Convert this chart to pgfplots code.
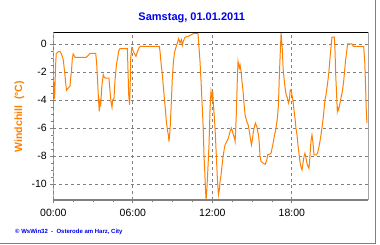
\documentclass[border=0pt]{standalone}
\usepackage{pgfplots}
\pgfplotsset{compat=1.18}
\usepackage{fontspec}
\setmainfont{Liberation Sans}
\definecolor{wsorange}{RGB}{255,128,0}
\definecolor{wsblue}{RGB}{0,0,235}
\definecolor{wsgray}{RGB}{128,128,128}
\begin{document}
\begin{tikzpicture}[x=1pt,y=1pt]
\path[use as bounding box] (0,0) rectangle (380,245);
\fill[white] (0,0) rectangle (380,245);
\draw[wsgray,line width=1pt] (375.7,245) -- (375.7,1.7) -- (0,1.7);
\begin{axis}[
  at={(53.3pt,44.7pt)}, anchor=south west,
  scale only axis, width=315pt, height=168pt,
  xmin=0, xmax=23.77, ymin=-11.14, ymax=0.83,
  axis line style={draw=none},
  xtick={0,6,12,18}, xticklabels={00:00,06:00,12:00,18:00},
  ytick={-10,-8,-6,-4,-2,0},
  minor x tick num=3, minor y tick num=3,
  xtick pos=left, ytick pos=left, tick align=outside,
  major tick length=3pt, minor tick length=2pt,
  every tick/.style={wsgray, line width=0.8pt},
  xmajorgrids, ymajorgrids,
  major grid style={wsgray, dashed, line width=0.8pt, dash pattern=on 3pt off 3pt},
  /pgf/number format/assume math mode=true,
  tick label style={font=\fontsize{10.5}{12}\selectfont, text=black},
  xticklabel style={yshift=-2pt},
  clip=true,
]
\addplot[wsorange, line width=1pt] coordinates {
(0.00,-4.6) (0.05,-2.7) (0.10,-3.9) (0.17,-1.6) (0.22,-0.7) (0.35,-0.57) (0.50,-0.52)
(0.63,-0.76) (0.75,-1.12) (0.85,-1.95) (0.96,-3.0) (1.00,-3.3) (1.13,-3.14) (1.26,-3.0)
(1.30,-2.55) (1.38,-1.83) (1.43,-1.12) (1.50,-0.71) (1.64,-0.95) (2.50,-0.95) (2.64,-0.81)
(2.77,-0.67) (3.20,-0.67) (3.27,-1.36) (3.35,-2.79) (3.42,-4.1) (3.47,-4.8) (3.52,-4.1)
(3.57,-4.45) (3.65,-3.14) (3.72,-2.55) (3.77,-2.19) (3.85,-2.38) (3.95,-2.43) (4.20,-2.43)
(4.28,-3.38) (4.35,-4.1) (4.43,-4.52) (4.48,-3.98) (4.58,-3.9) (4.65,-2.67) (4.73,-1.83)
(4.78,-1.36) (4.86,-1.0) (4.93,-0.52) (5.03,-0.33) (5.59,-0.33) (5.64,-1.95) (5.69,-3.62)
(5.72,-4.0) (5.76,-4.33) (5.80,-3.0) (5.84,-1.0) (5.92,-0.29) (5.99,-0.4) (6.09,-0.64)
(6.24,-0.88) (6.34,-0.57) (6.49,-0.24) (6.59,-0.17) (8.00,-0.17) (8.05,-0.52) (8.13,-1.36)
(8.23,-2.19) (8.31,-3.14) (8.38,-3.86) (8.46,-4.69) (8.53,-5.52) (8.61,-6.12) (8.68,-6.48)
(8.73,-6.95) (8.78,-6.48) (8.83,-5.76) (8.91,-4.1) (8.98,-2.43) (9.06,-1.36) (9.14,-0.64)
(9.24,-0.29) (9.36,0.07) (9.46,0.38) (9.56,0.07) (9.66,0.31) (9.74,-0.1) (9.81,0.19)
(9.94,0.48) (10.19,0.55) (10.44,0.67) (10.62,0.76) (10.82,0.76) (10.92,0.72) (10.97,0.07)
(11.07,-1.24) (11.15,-2.67) (11.22,-4.1) (11.27,-5.05) (11.32,-6.24) (11.37,-7.9) (11.43,-9.1)
(11.48,-10.29) (11.53,-11.1) (11.58,-10.5) (11.63,-9.57) (11.68,-8.62) (11.75,-7.19) (11.83,-4.6)
(11.90,-3.38) (11.98,-3.86) (12.03,-3.38) (12.08,-4.33) (12.16,-5.29) (12.23,-6.48) (12.31,-8.14)
(12.38,-9.57) (12.46,-10.76) (12.53,-10.4) (12.58,-9.81) (12.66,-9.33) (12.74,-8.62) (12.81,-8.02)
(12.89,-7.55) (12.96,-7.19) (13.09,-6.95) (13.21,-6.71) (13.34,-6.24) (13.44,-6.0) (13.52,-6.24)
(13.59,-6.48) (13.67,-6.71) (13.72,-6.95) (13.79,-5.52) (13.84,-4.1) (13.89,-2.43) (13.94,-1.24)
(13.99,-1.48) (14.04,-1.71) (14.09,-1.48) (14.17,-1.95) (14.24,-2.67) (14.32,-3.38) (14.40,-4.33)
(14.47,-5.05) (14.60,-5.52) (14.70,-5.76) (14.80,-6.24) (14.87,-6.71) (14.95,-7.19) (15.02,-6.83)
(15.10,-6.24) (15.18,-5.88) (15.25,-5.64) (15.35,-5.88) (15.43,-6.24) (15.50,-6.6) (15.55,-7.19)
(15.60,-8.02) (15.68,-8.38) (15.85,-8.5) (16.00,-8.57) (16.11,-8.26) (16.18,-7.9) (16.31,-7.86)
(16.43,-7.79) (16.51,-7.43) (16.61,-6.95) (16.69,-6.48) (16.76,-6.24) (16.84,-5.76) (16.91,-5.29)
(16.99,-4.33) (17.06,-2.19) (17.14,-0.29) (17.19,0.79) (17.24,0.07) (17.29,-0.52) (17.34,-1.71)
(17.41,-2.43) (17.49,-3.14) (17.57,-3.62) (17.67,-3.86) (17.74,-4.21) (17.82,-3.98) (17.87,-3.3)
(17.94,-3.26) (18.01,-3.62) (18.09,-4.1) (18.16,-4.69) (18.24,-5.29) (18.31,-6.0) (18.39,-6.48)
(18.46,-7.19) (18.54,-7.79) (18.61,-8.38) (18.69,-8.74) (18.77,-8.98) (18.84,-8.5) (18.92,-8.02)
(18.99,-7.79) (19.07,-8.14) (19.14,-8.5) (19.22,-8.74) (19.29,-8.86) (19.34,-8.38) (19.39,-7.67)
(19.44,-6.95) (19.52,-6.48) (19.60,-7.07) (19.67,-7.9) (19.87,-7.9) (19.97,-7.67) (20.05,-7.31)
(20.12,-6.95) (20.20,-6.48) (20.27,-6.0) (20.35,-5.4) (20.43,-4.69) (20.50,-3.98) (20.58,-3.62)
(20.65,-3.14) (20.73,-2.55) (20.80,-1.95) (20.88,-1.0) (20.95,-0.29) (21.03,0.48) (21.21,0.48)
(21.26,-0.52) (21.31,-2.19) (21.38,-3.62) (21.43,-4.81) (21.48,-4.57) (21.53,-4.69) (21.61,-4.33)
(21.68,-3.98) (21.76,-3.62) (21.83,-3.26) (21.91,-2.67) (21.98,-1.95) (22.06,-1.12) (22.14,-0.52)
(22.21,0.0) (22.54,0.0) (22.64,-0.17) (23.42,-0.17) (23.50,-1.24) (23.57,-3.14) (23.62,-4.81)
(23.67,-5.64)
};
\draw[black, line width=1.5pt] (rel axis cs:0,1) -- (rel axis cs:1,1) -- (rel axis cs:1,0);
\draw[wsgray, line width=2pt] (rel axis cs:0,1) -- (rel axis cs:0,0) -- (rel axis cs:1,0);
\end{axis}
\node[font=\fontsize{11}{13}\selectfont\bfseries, text=wsblue] at (191.7,227.3) {Samstag, 01.01.2011};
\node[font=\fontsize{10.5}{12}\selectfont\bfseries, text=wsorange, rotate=90] at (19.5,128.3) {Windchill\ \ (°C)};
\node[font=\fontsize{6}{7}\selectfont\bfseries, text=wsblue, anchor=west, inner sep=0pt] at (15,13.3) {© WsWin32\ \ -\ \ Osterode am Harz, City};
\end{tikzpicture}
\end{document}
